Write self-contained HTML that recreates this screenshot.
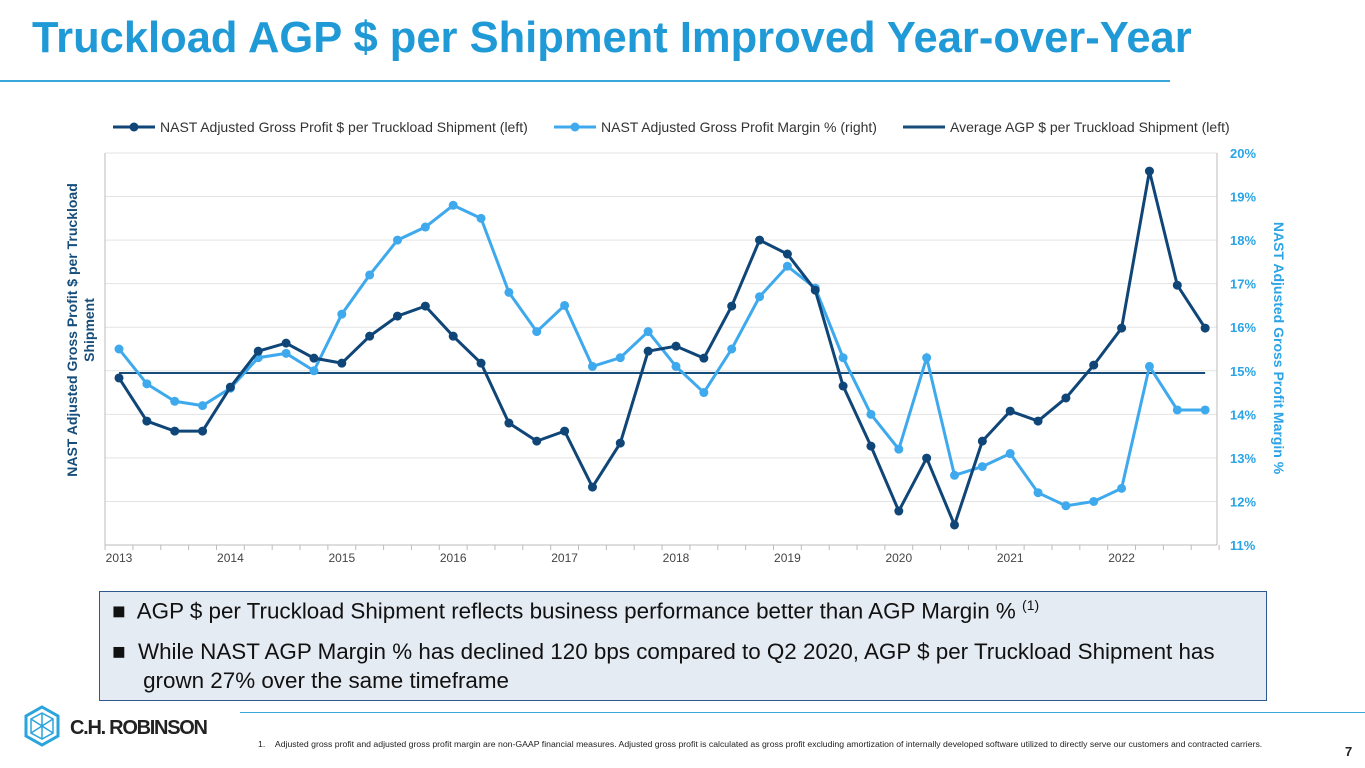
<!DOCTYPE html>
<html><head><meta charset="utf-8"><style>
body{margin:0;width:1365px;height:768px;background:#fff;font-family:"Liberation Sans",sans-serif;position:relative;overflow:hidden}
.abs{position:absolute}
</style></head><body>
<div class="abs" style="left:32px;top:14px;font-size:43.5px;font-weight:bold;color:#1f9ad6;white-space:nowrap">Truckload AGP $ per Shipment Improved Year-over-Year</div>
<div class="abs" style="left:0;top:80px;width:1170px;height:2px;background:#3aa7dc"></div>
<svg class="abs" id="chart" style="left:0;top:100px" width="1365" height="470" viewBox="0 100 1365 470"></svg>
<div class="abs" style="left:99px;top:591px;width:1166px;height:108px;background:#e5ebf3;border:1.5px solid #2c5a8c;font-size:22.4px;color:#111">
<div style="position:absolute;left:12px;top:5px;white-space:nowrap">■&nbsp; AGP $ per Truckload Shipment reflects business performance better than AGP Margin % <sup style="font-size:14px">(1)</sup></div>
<div style="position:absolute;left:12px;top:45px;width:1150px;line-height:29px;white-space:nowrap">■&nbsp; While NAST AGP Margin % has declined 120 bps compared to Q2 2020, AGP $ per Truckload Shipment has<br>&nbsp;&nbsp;&nbsp;&nbsp;&nbsp;grown 27% over the same timeframe</div>
</div>
<svg class="abs" style="left:22px;top:703px" width="215" height="46">
<polygon points="20,4 36,13 36,33 20,42 4,33 4,13" fill="none" stroke="#2aa4dc" stroke-width="3"/>
<polygon points="20,10 31,16 31,30 20,36 9,30 9,16" fill="none" stroke="#2aa4dc" stroke-width="1.5"/>
<path d="M20,10V36M9,16L31,30M31,16L9,30" stroke="#2aa4dc" stroke-width="1.5"/>
<text x="48" y="31" font-family="Liberation Sans" font-size="20" font-weight="bold" fill="#222" textLength="138">C.H. ROBINSON</text>
</svg>
<div class="abs" style="left:240px;top:712px;width:1125px;height:1px;background:#3aa7dc"></div>
<div class="abs" style="left:258px;top:739px;font-size:8.7px;color:#222;white-space:nowrap">1.&nbsp;&nbsp;&nbsp;&nbsp;Adjusted gross profit and adjusted gross profit margin are non-GAAP financial measures. Adjusted gross profit is calculated as gross profit excluding amortization of internally developed software utilized to directly serve our customers and contracted carriers.</div>
<div class="abs" style="left:1345px;top:744px;font-size:13px;font-weight:bold;color:#222">7</div>
<script>
const agpValues=[176.7,156.9,152.3,152.3,172.5,189.0,192.7,185.8,183.5,195.9,205.1,209.7,195.9,183.5,156.0,147.7,152.3,126.6,146.8,189.0,191.3,185.8,209.7,240.0,233.6,217.0,173.0,145.4,115.6,139.9,109.2,147.7,161.5,156.9,167.5,182.6,199.6,271.7,219.3,199.6];
const marginValues=[15.5,14.7,14.3,14.2,14.6,15.3,15.4,15.0,16.3,17.2,18.0,18.3,18.8,18.5,16.8,15.9,16.5,15.1,15.3,15.9,15.1,14.5,15.5,16.7,17.4,16.9,15.3,14.0,13.2,15.3,12.6,12.8,13.1,12.2,11.9,12.0,12.3,15.1,14.1,14.1];
const averageAgp=[179.0];
const yearLabels=["2013","2014","2015","2016","2017","2018","2019","2020","2021","2022"];
const rightTicks=[11,12,13,14,15,16,17,18,19,20];
const leftDomain=[100,280];
const svg=document.getElementById('chart');const NS='http://www.w3.org/2000/svg';
const X0=119,DX=27.85,YT=153,YB=545;
const xAt=i=>X0+i*DX;
const yL=v=>YB-(v-leftDomain[0])/(leftDomain[1]-leftDomain[0])*(YB-YT);
const yR=v=>YB-(v-11)/9*(YB-YT);
function mk(t,a,txt){const e=document.createElementNS(NS,t);for(const k in a)e.setAttribute(k,a[k]);if(txt!==undefined)e.textContent=txt;svg.appendChild(e);return e;}
rightTicks.forEach(t=>{
const g=mk('line',{x1:105,x2:1217,y1:yR(t),y2:yR(t),stroke:'#e3e3e3'});


const l=mk('text',{x:1230,y:yR(t)+5,'font-size':13,'font-weight':'bold',fill:'#2aa4e6'},t+'%');


});
const ax=mk('line',{x1:105,x2:1217,y1:YB,y2:YB,stroke:'#bbb'});


mk('line',{x1:105,x2:105,y1:YT,y2:YB,stroke:'#bbb'});
mk('line',{x1:1217,x2:1217,y1:YT,y2:YB,stroke:'#bbb'});
for(let i=0;i<=agpValues.length;i++){mk('line',{x1:xAt(i)-DX/2,x2:xAt(i)-DX/2,y1:YB,y2:YB+5,stroke:'#bbb'});}
yearLabels.forEach((y,k)=>{
const t=mk('text',{x:xAt(k*4),y:YB+17,'font-size':12,fill:'#444','text-anchor':'middle'},y);


});
const avg=mk('line',{x1:xAt(0),x2:xAt(agpValues.length-1),y1:yL(averageAgp[0]),y2:yL(averageAgp[0]),stroke:'#164d7a','stroke-width':2});


function series(vals,f,col,name){
const p=mk('polyline',{points:vals.map((v,i)=>xAt(i)+','+f(v)).join(' '),fill:'none',stroke:col,'stroke-width':3});


vals.forEach((v,i)=>{const c=mk('circle',{cx:xAt(i),cy:f(v),r:4.5,fill:col});

});
}
series(marginValues,yR,'#3ea9ec','margin');
series(agpValues,yL,'#0f4677','agp');
const lt=mk('text',{transform:'translate(77,330) rotate(-90)','font-size':14,'font-weight':'bold',fill:'#164d7a','text-anchor':'middle'});


const a=document.createElementNS(NS,'tspan');a.setAttribute('x',0);a.setAttribute('dy',0);a.textContent='NAST Adjusted Gross Profit $ per Truckload';lt.appendChild(a);
const b=document.createElementNS(NS,'tspan');b.setAttribute('x',0);b.setAttribute('dy',17);b.textContent='Shipment';lt.appendChild(b);
const rt=mk('text',{transform:'translate(1274,348) rotate(90)','font-size':14,'font-weight':'bold',fill:'#2aa4e6','text-anchor':'middle'},'NAST Adjusted Gross Profit Margin %');


const leg=[[113,'#0f4677',true,'NAST Adjusted Gross Profit $ per Truckload Shipment (left)'],[554,'#3ea9ec',true,'NAST Adjusted Gross Profit Margin % (right)'],[903,'#164d7a',false,'Average AGP $ per Truckload Shipment (left)']];
leg.forEach(l=>{
mk('line',{x1:l[0],x2:l[0]+42,y1:127,y2:127,stroke:l[1],'stroke-width':3});
if(l[2])mk('circle',{cx:l[0]+21,cy:127,r:4.5,fill:l[1]});
const t=mk('text',{x:l[0]+47,y:132,'font-size':14,fill:'#333'},l[3]);


});
</script>
</body></html>
